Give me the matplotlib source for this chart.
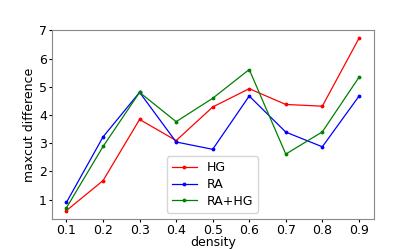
import matplotlib
matplotlib.use("Agg")
import matplotlib.pyplot as plt

density = [0.1, 0.2, 0.3, 0.4, 0.5, 0.6, 0.7, 0.8, 0.9]
hg = [0.61, 1.67, 3.84, 3.09, 4.28, 4.93, 4.37, 4.31, 6.71]
ra = [0.90, 3.22, 4.80, 3.04, 2.78, 4.67, 3.39, 2.87, 4.66]
ra_hg = [0.71, 2.88, 4.80, 3.76, 4.59, 5.61, 2.61, 3.40, 5.33]

plt.rcParams['font.size'] = 9
fig, ax = plt.subplots(figsize=(4.15, 2.49), dpi=100)
fig.subplots_adjust(left=0.125, right=0.9, top=0.88, bottom=0.12)
ax.plot(density, hg, color='r', marker='.', markersize=3.5, linewidth=0.9, label='HG')
ax.plot(density, ra, color='b', marker='.', markersize=3.5, linewidth=0.9, label='RA')
ax.plot(density, ra_hg, color='g', marker='.', markersize=3.5, linewidth=0.9, label='RA+HG')
ax.set_xticks(density)
ax.tick_params(length=2, pad=1.5)
ax.set_xlabel('density', labelpad=-1)
ax.set_ylabel('maxcut difference', labelpad=2)
ax.legend(loc='lower center', fontsize=9, borderaxespad=0.5, labelspacing=0.3)
for s in ax.spines.values():
    s.set_color('#888888')
fig.savefig('out.png', dpi=100)
